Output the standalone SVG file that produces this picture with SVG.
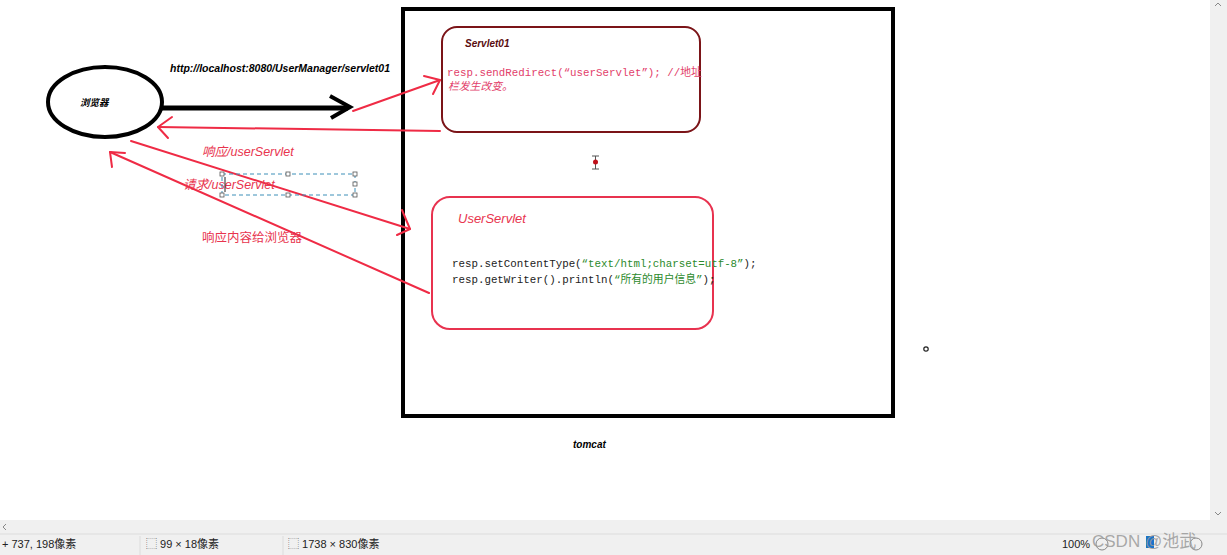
<svg xmlns="http://www.w3.org/2000/svg" width="1227" height="555" viewBox="0 0 1227 555">
<style>
.lbl{font-family:"Liberation Sans","Noto Sans CJK SC",sans-serif;}
.code{font-family:"Liberation Mono","Noto Sans CJK SC",monospace;font-size:10.8px;}
.red{fill:#e8344e;}
.rl{stroke:#ef2b45;stroke-width:2;fill:none;stroke-linecap:round;stroke-linejoin:round;}
.bk{stroke:#000;fill:none;}
.stat{font-family:"Liberation Sans","Noto Sans CJK SC",sans-serif;font-size:11px;fill:#222;}
</style>
<rect width="1227" height="555" fill="#ffffff"/>
<!-- scrollbars and status bar -->
<g id="chrome">
<rect x="1210" y="0" width="17" height="520" fill="#f0f0f0"/>
<path d="M1215 6 l3 -3 l3 3" fill="none" stroke="#888" stroke-width="1"/>
<path d="M1215 512 l3 3 l3 -3" fill="none" stroke="#888" stroke-width="1"/>
<rect x="0" y="520" width="1227" height="14" fill="#f0f0f0"/>
<path d="M6 524 l-3 3 l3 3" fill="none" stroke="#888" stroke-width="1"/>
<rect x="0" y="534" width="1227" height="21" fill="#f0f0f0"/>
<line x1="0" y1="534" x2="1227" y2="534" stroke="#dcdcdc"/>
<line x1="140" y1="536" x2="140" y2="555" stroke="#dcdcdc"/>
<line x1="283" y1="536" x2="283" y2="555" stroke="#dcdcdc"/>
<text class="stat" x="2" y="548">+ 737, 198像素</text>
<text class="stat" x="146" y="548">⬚ 99 × 18像素</text>
<text class="stat" x="288" y="548">⬚ 1738 × 830像素</text>
<text class="stat" x="1062" y="548">100%</text>
<circle cx="1102" cy="544" r="6" fill="none" stroke="#888"/>
<circle cx="1196" cy="544" r="6" fill="none" stroke="#888"/>
<rect x="1146" y="536" width="8" height="12" fill="#1a73c9"/>
<text x="1092" y="547" font-family="Liberation Sans,'Noto Sans CJK SC',sans-serif" font-size="17" fill="#9a9a9a" fill-opacity="0.85">CSDN @池武</text>
</g>
<!-- tomcat container -->
<g id="tomcat">
<rect x="403" y="9" width="490" height="407" class="bk" stroke-width="4"/>
<text x="573" y="448" class="lbl" font-size="10" font-weight="bold" font-style="italic">tomcat</text>
</g>
<g id="browser">
<ellipse cx="105" cy="102" rx="57" ry="35" class="bk" stroke-width="4"/>
<text x="80" y="106" class="lbl" font-size="9.5" font-weight="bold" font-style="italic">浏览器</text>
</g>
<g id="servlet01">
<rect x="442" y="27" width="258" height="105" rx="15" fill="none" stroke="#7b1418" stroke-width="2"/>
<text x="465" y="47" class="lbl" font-size="10" font-weight="bold" font-style="italic" fill="#5a0d10">Servlet01</text>
<text x="447" y="76" class="code" fill="#e2406a">resp.sendRedirect(“userServlet”); //地址</text>
<text x="448" y="90" class="code" fill="#e2406a" font-style="italic">栏发生改变。</text>
</g>
<g id="userservlet">
<rect x="432" y="197" width="281" height="132" rx="18" fill="none" stroke="#e8324f" stroke-width="2"/>
<text x="458" y="223" class="lbl red" font-size="13" font-style="italic">UserServlet</text>
<text x="452" y="267" class="code" fill="#222">resp.setContentType(<tspan fill="#2c8a2c">“text/html;charset=utf-8”</tspan>);</text>
<text x="452" y="283" class="code" fill="#222">resp.getWriter().println(<tspan fill="#2c8a2c">“所有的用户信息”</tspan>);</text>
</g>
<g id="connectors">
<line x1="162" y1="108" x2="348" y2="108" stroke="#000" stroke-width="5"/>
<path d="M330 96 L350 107 L331 118" fill="none" stroke="#000" stroke-width="4" stroke-linejoin="miter"/>
<path class="rl" d="M353 111 L440 80"/>
<path class="rl" d="M424 76 L440 80 L433 94"/>
<path class="rl" d="M440 131 L158 127"/>
<path class="rl" d="M172 117 L158 127 L168 138"/>
<path class="rl" d="M131 141 L410 229"/>
<path class="rl" d="M402 210 L410 229 L397 235"/>
<path class="rl" d="M429 293 L110 152"/>
<path class="rl" d="M112 167 L110 152 L125 153"/>
</g>
<g id="labels">
<text x="170" y="72" class="lbl" font-size="10.5" font-weight="bold" font-style="italic">http://localhost:8080/UserManager/servlet01</text>
<text x="202" y="156" class="lbl red" font-size="12.5" font-style="italic">响应/userServlet</text>
<text x="183" y="189" class="lbl red" font-size="12.5" font-style="italic">请求/userServlet</text>
<text x="202" y="242" class="lbl red" font-size="12.5">响应内容给浏览器</text>
</g>
<g id="selection">
<rect x="222" y="174" width="133" height="21" fill="none" stroke="#3c8fb8" stroke-width="1" stroke-dasharray="4 3"/>
<g fill="#fff" stroke="#555" stroke-width="0.8">
<rect x="220" y="172" width="4" height="4"/><rect x="286" y="172" width="4" height="4"/><rect x="353" y="172" width="4" height="4"/>
<rect x="353" y="182" width="4" height="4"/>
<rect x="220" y="193" width="4" height="4"/><rect x="286" y="193" width="4" height="4"/><rect x="353" y="193" width="4" height="4"/>
</g>
<line x1="225" y1="177" x2="225" y2="192" stroke="#222" stroke-width="1"/>
</g>
<g id="marks">
<path d="M592 156 h7 M595.5 156 v13 M592 169 h7" stroke="#555" stroke-width="1" fill="none"/>
<circle cx="595.5" cy="162" r="2.5" fill="#c0101a"/>
<circle cx="926" cy="349" r="2.2" fill="none" stroke="#222" stroke-width="1.2"/>
</g>
</svg>
